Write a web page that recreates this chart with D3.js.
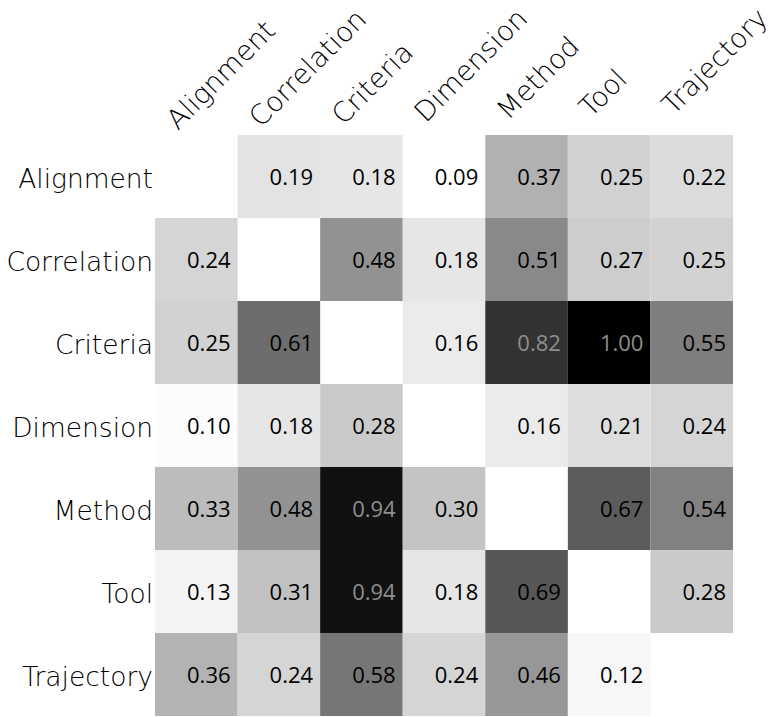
<!DOCTYPE html>
<html>
<head>
<meta charset="utf-8">
<script src="https://cdn.jsdelivr.net/npm/d3@7"></script>
<style>
  html, body { margin: 0; padding: 0; background: #fff; }
  svg { display: block; }
</style>
</head>
<body>
<svg id="chart" width="779" height="717"></svg>
<script>
// ---- data ----
const categories = ["Alignment", "Correlation", "Criteria", "Dimension", "Method", "Tool", "Trajectory"];
// rows (null = diagonal, left blank)
const rowAlignment   = [null, 0.19, 0.18, 0.09, 0.37, 0.25, 0.22];
const rowCorrelation = [0.24, null, 0.48, 0.18, 0.51, 0.27, 0.25];
const rowCriteria    = [0.25, 0.61, null, 0.16, 0.82, 1.00, 0.55];
const rowDimension   = [0.10, 0.18, 0.28, null, 0.16, 0.21, 0.24];
const rowMethod      = [0.33, 0.48, 0.94, 0.30, null, 0.67, 0.54];
const rowTool        = [0.13, 0.31, 0.94, 0.18, 0.69, null, 0.28];
const rowTrajectory  = [0.36, 0.24, 0.58, 0.24, 0.46, 0.12, null];

const matrix = [rowAlignment, rowCorrelation, rowCriteria, rowDimension, rowMethod, rowTool, rowTrajectory];

const cells = [];
matrix.forEach((row, i) => row.forEach((v, j) => {
  if (v !== null) cells.push({ row: categories[i], col: categories[j], value: v });
}));

// ---- layout ----
const svg = d3.select("#chart");
const x = d3.scaleBand().domain(categories).range([155, 733]).padding(0);
const y = d3.scaleBand().domain(categories).range([135, 716]).padding(0);
const color = d3.scaleLinear().domain([0.09, 1]).range(["#ffffff", "#000000"]).clamp(true);

const labelFont = "'DejaVu Sans', sans-serif";
const numFont = "'Open Sans', Lato, sans-serif";

// cells
svg.append("g").selectAll("rect")
  .data(cells)
  .join("rect")
  .attr("x", d => x(d.col))
  .attr("y", d => y(d.row))
  .attr("width", x.bandwidth())
  .attr("height", y.bandwidth())
  .attr("fill", d => color(d.value));

// values
svg.append("g").selectAll("text")
  .data(cells)
  .join("text")
  .attr("x", d => x(d.col) + x.bandwidth() - 7)
  .attr("y", d => y(d.row) + y.bandwidth() / 2 + 8)
  .attr("text-anchor", "end")
  .attr("font-family", numFont)
  .attr("font-size", 22)
  .attr("fill", d => d.value >= 0.8 ? "#8e8e8e" : "#000")
  .text(d => d.value.toFixed(2));

// row labels
svg.append("g").selectAll("text")
  .data(categories)
  .join("text")
  .attr("x", 153)
  .attr("y", d => y(d) + y.bandwidth() / 2 + 11)
  .attr("text-anchor", "end")
  .attr("font-family", labelFont)
  .attr("font-weight", 200)
  .attr("font-size", 26.5)
  .attr("fill", "#000")
  .text(d => d);

// column labels (rotated)
svg.append("g").selectAll("text")
  .data(categories)
  .join("text")
  .attr("transform", (d, i) => `translate(${x(d) + 23},${131 - 2.5 * i}) rotate(-45)`)
  .attr("text-anchor", "start")
  .attr("font-family", labelFont)
  .attr("font-weight", 200)
  .attr("font-size", 27.5)
  .attr("fill", "#000")
  .text(d => d);
</script>
</body>
</html>
